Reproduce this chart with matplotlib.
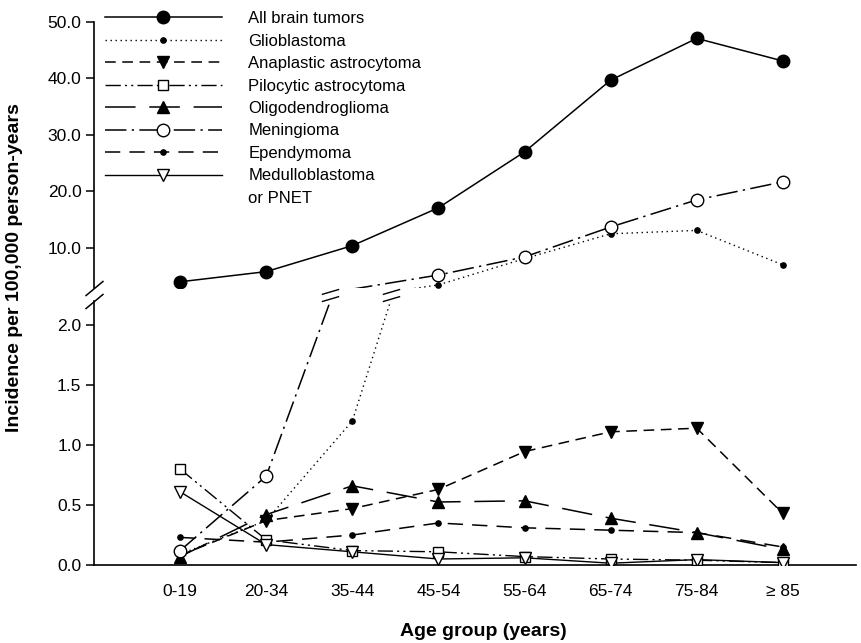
import numpy as np
import matplotlib
matplotlib.use("Agg")
import matplotlib.pyplot as plt
from matplotlib.path import Path

plt.rcParams['font.family'] = ['Liberation Sans', 'DejaVu Sans']

# ---------------- data ----------------
categories = ['0-19', '20-34', '35-44', '45-54', '55-64', '65-74', '75-84', '\u2265 85']
all_tumors = [4.0, 5.8, 10.4, 17.1, 27.0, 39.7, 47.1, 43.1]
glioblastoma = [0.09, 0.37, 1.2, 3.45, 8.1, 12.5, 13.1, 7.0]
anaplastic = [0.08, 0.37, 0.47, 0.63, 0.945, 1.11, 1.14, 0.43]
pilocytic = [0.80, 0.21, 0.12, 0.11, 0.07, 0.05, 0.04, 0.02]
oligodendroglioma = [0.07, 0.42, 0.66, 0.525, 0.535, 0.39, 0.27, 0.13]
meningioma = [0.12, 0.74, 2.7, 5.2, 8.4, 13.7, 18.5, 21.7]
ependymoma = [0.23, 0.19, 0.25, 0.35, 0.31, 0.29, 0.27, 0.15]
medulloblastoma = [0.61, 0.17, 0.11, 0.05, 0.06, 0.015, 0.045, 0.02]

series_labels = ['All brain tumors', 'Glioblastoma', 'Anaplastic astrocytoma',
                 'Pilocytic astrocytoma', 'Oligodendroglioma', 'Meningioma',
                 'Ependymoma', 'Medulloblastoma']

low_ticks = [0.0, 0.5, 1.0, 1.5, 2.0]
up_ticks = [10.0, 20.0, 30.0, 40.0, 50.0]
low_lim = (0, 2.2)
up_lim = (2.9, 50)

# ---------------- styles ----------------
styles = [
    dict(ls='-', marker='o', ms=9, mfc='black', lw=1.1),
    dict(ls=(0, (1.0, 2.6)), marker='o', ms=3.8, mfc='black', lw=1.0),
    dict(ls=(0, (7, 4.3)), marker='v', ms=8, mfc='black', lw=1.1),
    dict(ls=(0, (11, 3, 1.5, 3, 1.5, 3)), marker='s', ms=7.5, mfc='white', lw=1.0),
    dict(ls=(0, (20, 9)), marker='^', ms=8, mfc='black', lw=1.1),
    dict(ls=(0, (14, 3.5, 1.5, 3.5)), marker='o', ms=9, mfc='white', lw=1.1),
    dict(ls=(0, (10, 6)), marker='o', ms=3.8, mfc='black', lw=1.1),
    dict(ls='-', marker='v', ms=8, mfc='white', lw=1.0),
]
data = [all_tumors, glioblastoma, anaplastic, pilocytic, oligodendroglioma,
        meningioma, ependymoma, medulloblastoma]

W, H = 861, 643
fig = plt.figure(figsize=(W / 100, H / 100), dpi=100)
left, right = 94 / W, 856 / W
ax_low = fig.add_axes([left, (H - 565) / H, right - left, (565 - 301) / H])
ax_up = fig.add_axes([left, (H - 288) / H, right - left, (288 - 22) / H])

x = np.arange(len(categories))
handles = []
for vals, st, lab in zip(data, styles, series_labels):
    v = np.asarray(vals, dtype=float)
    for ax, (lo, hi) in ((ax_low, low_lim), (ax_up, up_lim)):
        # connecting line (clipped by the axes)
        ax.plot(x, v, color='black', linestyle=st['ls'], lw=st['lw'])
        # symbols only for points inside this panel's range
        vm = np.where((v >= lo) & (v <= hi), v, np.nan)
        ax.plot(x, vm, ls='none', marker=st['marker'], markersize=st['ms'],
                markerfacecolor=st['mfc'], markeredgecolor='black',
                markeredgewidth=1.0, zorder=3)
    # legend proxy
    h, = ax_low.plot([], [], color='black', linestyle=st['ls'], lw=st['lw'],
                     marker=st['marker'], markersize=st['ms'],
                     markerfacecolor=st['mfc'], markeredgecolor='black',
                     markeredgewidth=1.0, label=lab)
    handles.append(h)

for ax in (ax_low, ax_up):
    ax.set_xlim(-1, 7.85)
    for s in ('top', 'right'):
        ax.spines[s].set_visible(False)
    ax.spines['left'].set_linewidth(1.2)
    ax.tick_params(axis='y', direction='out', length=6, width=1.1,
                   labelsize=12.5, pad=3)

ax_low.set_ylim(*low_lim)
ax_up.set_ylim(*up_lim)
ax_low.set_yticks(low_ticks)
ax_low.set_yticklabels([f'{t:.1f}' for t in low_ticks])
ax_up.set_yticks(up_ticks)
ax_up.set_yticklabels([f'{t:.1f}' for t in up_ticks])
ax_up.spines['bottom'].set_visible(False)
ax_up.set_xticks([])
ax_low.spines['bottom'].set_linewidth(1.2)
ax_low.set_xticks(x)
ax_low.set_xticklabels(categories)
ax_low.tick_params(axis='x', length=0, pad=14, labelsize=12.5)

# axis break slashes
slash = Path([(-0.6, -0.5), (0.6, 0.5)], [Path.MOVETO, Path.LINETO])
ax_low.plot([0], [1], transform=ax_low.transAxes, marker=slash, ms=13,
            color='black', mew=1.1, clip_on=False, ls='none')
ax_up.plot([0], [0], transform=ax_up.transAxes, marker=slash, ms=13,
           color='black', mew=1.1, clip_on=False, ls='none')

# line break marks where series cross the gap
gap_px = 301 - 288
y_mid = low_lim[1] + (gap_px / 2) / (264 / (low_lim[1] - low_lim[0]))
eqmark = Path([(-8.5, -6), (8.5, -1), (-8.5, 1), (8.5, 6)],
              [Path.MOVETO, Path.LINETO, Path.MOVETO, Path.LINETO])
for vals in data:
    for i in range(len(vals) - 1):
        a, b = vals[i], vals[i + 1]
        if a < low_lim[1] < b:
            xc = i + (low_lim[1] - a) / (b - a)
            ax_low.plot([xc], [y_mid], marker=eqmark, ms=12.5, color='black',
                        mfc='none', mew=1.0, clip_on=False, ls='none', zorder=5)

# legend
leg = ax_up.legend(handles, series_labels, loc='upper left',
                   bbox_to_anchor=(105 / W, 1 - 11 / H),
                   bbox_transform=fig.transFigure, frameon=False,
                   fontsize=12, handlelength=7.0, handletextpad=1.6,
                   labelspacing=0.45, borderpad=0, borderaxespad=0,
                   markerscale=1.0)
leg.set_zorder(5)
last_text = leg.get_texts()[-1]
ax_up.annotate('or PNET', xy=(0, 0), xycoords=last_text, xytext=(0, -16.5),
               textcoords='offset points', ha='left', va='bottom',
               fontsize=12, annotation_clip=False, zorder=10)

fig.text(483 / W, 1 - 632 / H, 'Age group (years)', ha='center', va='center',
         fontsize=14, fontweight='bold')
fig.text(15 / W, 1 - 268 / H, 'Incidence per 100,000 person-years',
         ha='center', va='center', rotation=90, fontsize=14, fontweight='bold')

fig.savefig('out.png', dpi=100)
